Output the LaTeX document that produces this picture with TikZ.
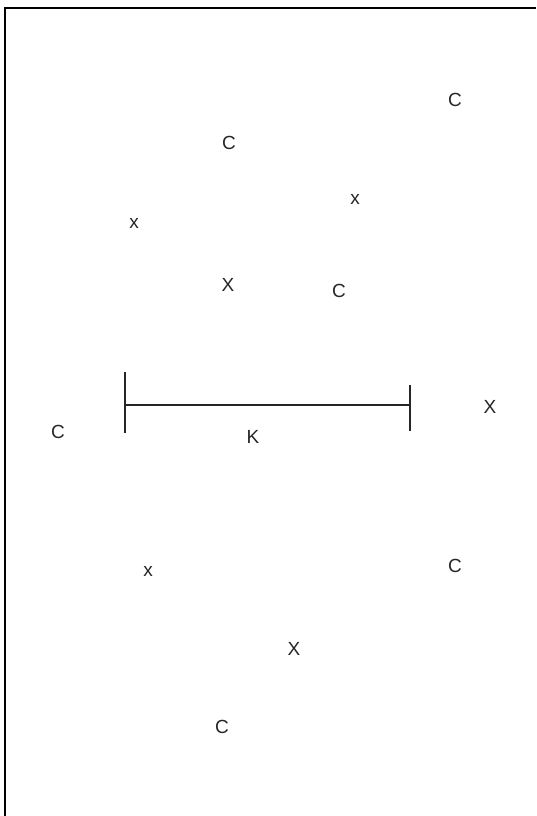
\documentclass[tikz,border=0pt]{standalone}
\usepackage{fontspec}
\setmainfont{Liberation Sans}
\begin{document}
\begin{tikzpicture}[x=1pt,y=-1pt,
  lbl/.style={inner sep=0pt,font=\fontsize{19}{22}\selectfont,text=black!85},
  rule/.style={line width=2pt,black!85}]
\useasboundingbox (0,0) rectangle (536,816);
\fill[white] (0,0) rectangle (536,816);
% frame (top and left edges)
\coordinate (fbl) at (5,816);
\coordinate (ftl) at (5,8);
\coordinate (ftr) at (536,8);
\draw[line width=2.2pt,black] (fbl) -- (ftl) -- (ftr);
% labels
\node[lbl] (c1) at (455,100) {C};
\node[lbl] (c2) at (229,143) {C};
\node[lbl] (x1) at (134,223) {x};
\node[lbl] (x2) at (355,199) {x};
\node[lbl] (X1) at (228,285) {X};
\node[lbl] (c3) at (339,291) {C};
\node[lbl] (c4) at (58,432) {C};
\node[lbl] (X2) at (490,407) {X};
\node[lbl] (k) at (253,437) {K};
\node[lbl] (x3) at (148,571) {x};
\node[lbl] (c5) at (455,566) {C};
\node[lbl] (X3) at (294,649) {X};
\node[lbl] (c6) at (222,727) {C};
% measurement bar
\coordinate (lt) at (125,372);
\coordinate (lb) at (125,433);
\coordinate (rt) at (410,385);
\coordinate (rb) at (410,431);
\coordinate (lm) at (125,405);
\coordinate (rm) at (410,405);
\draw[rule] (lt) -- (lb);
\draw[rule] (rt) -- (rb);
\draw[rule] (lm) -- (rm);
\end{tikzpicture}
\end{document}
